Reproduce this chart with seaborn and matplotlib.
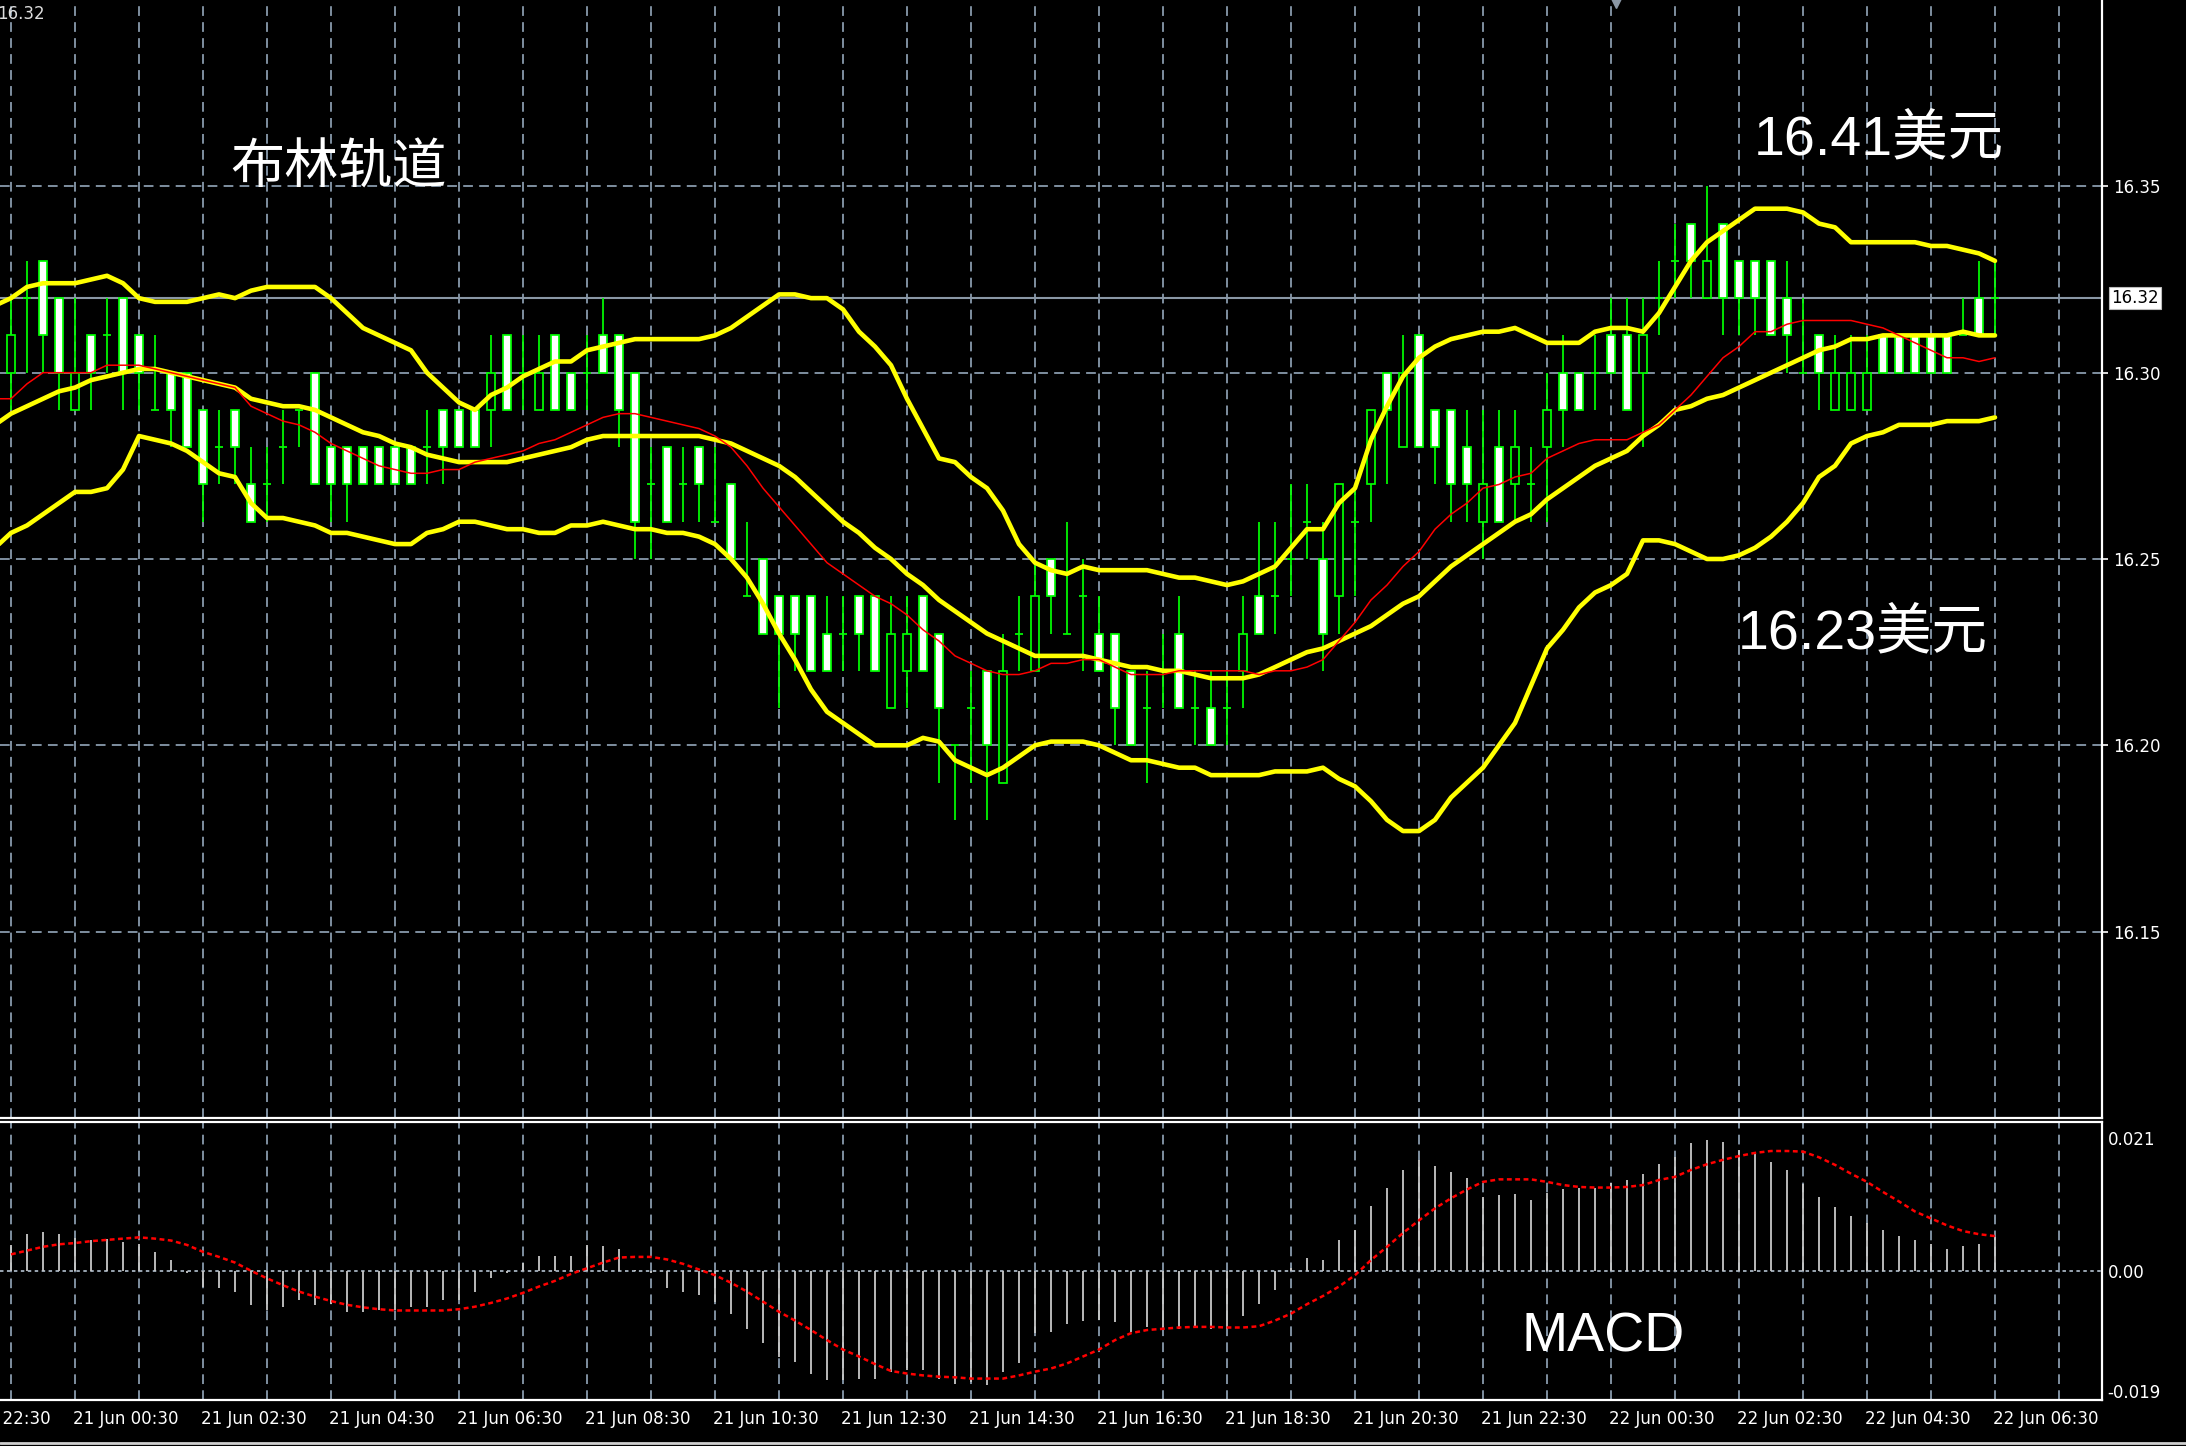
import numpy as np
import seaborn as sns
import matplotlib.pyplot as plt
from matplotlib import font_manager
from matplotlib.lines import Line2D
from matplotlib.transforms import blended_transform_factory

# M15 candles shown on the chart, 20 Jun 23:30 -> 22 Jun 06:30 (125 bars)
opens = [16.30, 16.32, 16.33, 16.32, 16.29, 16.31, 16.31, 16.32, 16.31, 16.29,
         16.30, 16.30, 16.29, 16.28, 16.29, 16.27, 16.27, 16.28, 16.29, 16.30,
         16.28, 16.28, 16.28, 16.28, 16.28, 16.28, 16.28, 16.29, 16.29, 16.29,
         16.29, 16.31, 16.30, 16.29, 16.31, 16.30, 16.30, 16.31, 16.31, 16.30,
         16.27, 16.28, 16.27, 16.28, 16.26, 16.27, 16.24, 16.25, 16.24, 16.24,
         16.24, 16.23, 16.23, 16.24, 16.24, 16.21, 16.22, 16.24, 16.23, 16.20,
         16.21, 16.22, 16.19, 16.23, 16.22, 16.25, 16.23, 16.24, 16.23, 16.23,
         16.22, 16.21, 16.22, 16.23, 16.21, 16.21, 16.21, 16.22, 16.24, 16.24,
         16.25, 16.26, 16.25, 16.24, 16.26, 16.27, 16.30, 16.28, 16.31, 16.29,
         16.29, 16.28, 16.26, 16.28, 16.27, 16.27, 16.28, 16.30, 16.30, 16.30,
         16.31, 16.31, 16.30, 16.32, 16.33, 16.34, 16.32, 16.34, 16.33, 16.33,
         16.33, 16.32, 16.30, 16.31, 16.29, 16.29, 16.29, 16.31, 16.31, 16.31,
         16.31, 16.31, 16.31, 16.32, 16.32]
highs = [16.32, 16.33, 16.33, 16.32, 16.32, 16.31, 16.32, 16.32, 16.31, 16.31,
         16.30, 16.30, 16.29, 16.29, 16.29, 16.28, 16.28, 16.29, 16.29, 16.30,
         16.28, 16.28, 16.28, 16.28, 16.28, 16.28, 16.29, 16.29, 16.29, 16.29,
         16.31, 16.31, 16.31, 16.31, 16.31, 16.30, 16.31, 16.32, 16.31, 16.30,
         16.28, 16.28, 16.28, 16.28, 16.28, 16.27, 16.26, 16.25, 16.24, 16.24,
         16.24, 16.24, 16.24, 16.24, 16.24, 16.24, 16.24, 16.24, 16.23, 16.20,
         16.22, 16.22, 16.23, 16.24, 16.25, 16.25, 16.26, 16.25, 16.24, 16.23,
         16.22, 16.22, 16.23, 16.24, 16.22, 16.22, 16.22, 16.24, 16.26, 16.26,
         16.27, 16.27, 16.26, 16.27, 16.27, 16.29, 16.30, 16.31, 16.31, 16.29,
         16.29, 16.29, 16.29, 16.29, 16.29, 16.28, 16.30, 16.31, 16.30, 16.31,
         16.32, 16.32, 16.32, 16.33, 16.34, 16.34, 16.35, 16.34, 16.33, 16.33,
         16.33, 16.33, 16.32, 16.31, 16.31, 16.31, 16.31, 16.31, 16.31, 16.31,
         16.31, 16.31, 16.32, 16.33, 16.33]
lows = [16.29, 16.30, 16.30, 16.29, 16.29, 16.29, 16.30, 16.29, 16.29, 16.29,
        16.28, 16.28, 16.26, 16.27, 16.27, 16.26, 16.26, 16.27, 16.28, 16.27,
        16.26, 16.26, 16.27, 16.27, 16.27, 16.27, 16.27, 16.27, 16.28, 16.28,
        16.28, 16.29, 16.29, 16.29, 16.29, 16.29, 16.29, 16.30, 16.28, 16.25,
        16.25, 16.26, 16.26, 16.26, 16.26, 16.25, 16.24, 16.23, 16.21, 16.22,
        16.22, 16.22, 16.22, 16.22, 16.22, 16.21, 16.21, 16.22, 16.19, 16.18,
        16.19, 16.18, 16.19, 16.22, 16.22, 16.23, 16.23, 16.22, 16.22, 16.20,
        16.20, 16.19, 16.21, 16.21, 16.20, 16.20, 16.20, 16.21, 16.23, 16.23,
        16.24, 16.25, 16.22, 16.23, 16.24, 16.26, 16.27, 16.28, 16.28, 16.27,
        16.26, 16.26, 16.25, 16.26, 16.26, 16.26, 16.26, 16.28, 16.29, 16.29,
        16.30, 16.29, 16.28, 16.31, 16.32, 16.32, 16.32, 16.31, 16.31, 16.31,
        16.31, 16.30, 16.30, 16.29, 16.29, 16.29, 16.29, 16.30, 16.30, 16.30,
        16.30, 16.30, 16.31, 16.31, 16.31]
closes = [16.31, 16.32, 16.31, 16.30, 16.30, 16.30, 16.31, 16.30, 16.30, 16.29,
          16.29, 16.28, 16.27, 16.28, 16.28, 16.26, 16.27, 16.28, 16.29, 16.27,
          16.27, 16.27, 16.27, 16.27, 16.27, 16.27, 16.28, 16.28, 16.28, 16.28,
          16.30, 16.29, 16.30, 16.30, 16.29, 16.29, 16.30, 16.30, 16.29, 16.26,
          16.27, 16.26, 16.27, 16.27, 16.26, 16.25, 16.24, 16.23, 16.23, 16.23,
          16.22, 16.22, 16.23, 16.23, 16.22, 16.23, 16.23, 16.22, 16.21, 16.20,
          16.21, 16.20, 16.22, 16.23, 16.24, 16.24, 16.23, 16.24, 16.22, 16.21,
          16.20, 16.21, 16.22, 16.21, 16.21, 16.20, 16.21, 16.23, 16.23, 16.24,
          16.25, 16.26, 16.23, 16.27, 16.26, 16.29, 16.29, 16.30, 16.28, 16.28,
          16.27, 16.27, 16.27, 16.26, 16.28, 16.27, 16.29, 16.29, 16.29, 16.30,
          16.30, 16.29, 16.31, 16.32, 16.33, 16.33, 16.33, 16.32, 16.32, 16.32,
          16.31, 16.31, 16.30, 16.30, 16.30, 16.30, 16.30, 16.30, 16.30, 16.30,
          16.30, 16.30, 16.31, 16.31, 16.32]

# Bollinger bands and the thin red average, one value per bar,
# starting one bar before the first candle so they reach the left edge
bb_upper = [16.318, 16.320, 16.323, 16.324, 16.324, 16.324, 16.325, 16.326, 16.324, 16.320,
            16.319, 16.319, 16.319, 16.320, 16.321, 16.320, 16.322, 16.323, 16.323, 16.323,
            16.323, 16.320, 16.316, 16.312, 16.310, 16.308, 16.306, 16.300, 16.296, 16.292,
            16.290, 16.294, 16.296, 16.299, 16.301, 16.303, 16.303, 16.306, 16.307, 16.308,
            16.309, 16.309, 16.309, 16.309, 16.309, 16.310, 16.312, 16.315, 16.318, 16.321,
            16.321, 16.320, 16.320, 16.317, 16.311, 16.307, 16.302, 16.293, 16.285, 16.277,
            16.276, 16.272, 16.269, 16.263, 16.254, 16.249, 16.247, 16.246, 16.248, 16.247,
            16.247, 16.247, 16.247, 16.246, 16.245, 16.245, 16.244, 16.243, 16.244, 16.246,
            16.248, 16.253, 16.258, 16.258, 16.265, 16.269, 16.282, 16.291, 16.299, 16.304,
            16.307, 16.309, 16.310, 16.311, 16.311, 16.312, 16.310, 16.308, 16.308, 16.308,
            16.311, 16.312, 16.312, 16.311, 16.316, 16.323, 16.330, 16.335, 16.338, 16.341,
            16.344, 16.344, 16.344, 16.343, 16.340, 16.339, 16.335, 16.335, 16.335, 16.335,
            16.335, 16.334, 16.334, 16.333, 16.332, 16.330]
bb_middle = [16.286, 16.289, 16.291, 16.293, 16.295, 16.296, 16.298, 16.299, 16.300, 16.301,
             16.301, 16.300, 16.299, 16.298, 16.297, 16.296, 16.293, 16.292, 16.291, 16.291,
             16.290, 16.288, 16.286, 16.284, 16.283, 16.281, 16.280, 16.278, 16.277, 16.276,
             16.276, 16.276, 16.276, 16.277, 16.278, 16.279, 16.280, 16.282, 16.283, 16.283,
             16.283, 16.283, 16.283, 16.283, 16.283, 16.282, 16.281, 16.279, 16.277, 16.275,
             16.272, 16.268, 16.264, 16.260, 16.257, 16.253, 16.250, 16.246, 16.243, 16.239,
             16.236, 16.233, 16.230, 16.228, 16.226, 16.224, 16.224, 16.224, 16.224, 16.223,
             16.222, 16.221, 16.221, 16.220, 16.220, 16.219, 16.218, 16.218, 16.218, 16.219,
             16.221, 16.223, 16.225, 16.226, 16.228, 16.230, 16.232, 16.235, 16.238, 16.240,
             16.244, 16.248, 16.251, 16.254, 16.257, 16.260, 16.262, 16.266, 16.269, 16.272,
             16.275, 16.277, 16.279, 16.283, 16.286, 16.290, 16.291, 16.293, 16.294, 16.296,
             16.298, 16.300, 16.302, 16.304, 16.306, 16.307, 16.309, 16.309, 16.310, 16.310,
             16.310, 16.310, 16.310, 16.311, 16.310, 16.310]
bb_lower = [16.253, 16.257, 16.259, 16.262, 16.265, 16.268, 16.268, 16.269, 16.274, 16.283,
            16.282, 16.281, 16.279, 16.276, 16.273, 16.272, 16.265, 16.261, 16.261, 16.260,
            16.259, 16.257, 16.257, 16.256, 16.255, 16.254, 16.254, 16.257, 16.258, 16.260,
            16.260, 16.259, 16.258, 16.258, 16.257, 16.257, 16.259, 16.259, 16.260, 16.259,
            16.258, 16.258, 16.257, 16.257, 16.256, 16.254, 16.250, 16.245, 16.238, 16.230,
            16.223, 16.215, 16.209, 16.206, 16.203, 16.200, 16.200, 16.200, 16.202, 16.201,
            16.196, 16.194, 16.192, 16.194, 16.197, 16.200, 16.201, 16.201, 16.201, 16.200,
            16.198, 16.196, 16.196, 16.195, 16.194, 16.194, 16.192, 16.192, 16.192, 16.192,
            16.193, 16.193, 16.193, 16.194, 16.191, 16.189, 16.185, 16.180, 16.177, 16.177,
            16.180, 16.186, 16.190, 16.194, 16.200, 16.206, 16.216, 16.226, 16.231, 16.237,
            16.241, 16.243, 16.246, 16.255, 16.255, 16.254, 16.252, 16.250, 16.250, 16.251,
            16.253, 16.256, 16.260, 16.265, 16.272, 16.275, 16.281, 16.283, 16.284, 16.286,
            16.286, 16.286, 16.287, 16.287, 16.287, 16.288]
ma_red = [16.293, 16.293, 16.297, 16.300, 16.300, 16.300, 16.300, 16.302, 16.302, 16.302,
          16.301, 16.300, 16.299, 16.298, 16.297, 16.296, 16.291, 16.289, 16.287, 16.286,
          16.284, 16.281, 16.279, 16.277, 16.275, 16.274, 16.273, 16.273, 16.274, 16.274,
          16.276, 16.277, 16.278, 16.279, 16.281, 16.282, 16.284, 16.286, 16.288, 16.289,
          16.289, 16.288, 16.287, 16.286, 16.285, 16.283, 16.280, 16.275, 16.269, 16.264,
          16.259, 16.254, 16.249, 16.246, 16.243, 16.240, 16.238, 16.235, 16.231, 16.228,
          16.224, 16.222, 16.220, 16.219, 16.219, 16.220, 16.222, 16.222, 16.223, 16.223,
          16.221, 16.219, 16.219, 16.219, 16.220, 16.220, 16.220, 16.220, 16.220, 16.219,
          16.220, 16.220, 16.221, 16.223, 16.228, 16.233, 16.239, 16.243, 16.248, 16.252,
          16.258, 16.262, 16.265, 16.269, 16.270, 16.272, 16.273, 16.277, 16.279, 16.281,
          16.282, 16.282, 16.282, 16.284, 16.286, 16.290, 16.294, 16.299, 16.304, 16.307,
          16.311, 16.311, 16.313, 16.314, 16.314, 16.314, 16.314, 16.313, 16.312, 16.310,
          16.308, 16.306, 16.304, 16.304, 16.303, 16.304]

# MACD window: histogram (main) and dotted signal line
macd_hist = [0.0041, 0.0059, 0.0061, 0.0058, 0.0052, 0.0049, 0.0051, 0.0046, 0.0042, 0.0030,
             0.0017, -0.0003, -0.0025, -0.0028, -0.0033, -0.0054, -0.0062, -0.0057, -0.0047, -0.0054,
             -0.0052, -0.0065, -0.0065, -0.0062, -0.0062, -0.0057, -0.0057, -0.0047, -0.0047, -0.0033,
             -0.0012, -0.0003, 0.0012, 0.0023, 0.0023, 0.0023, 0.0041, 0.0039, 0.0035, 0.0001,
             -0.0004, -0.0028, -0.0033, -0.0039, -0.0049, -0.0068, -0.0092, -0.0115, -0.0136, -0.0144,
             -0.0163, -0.0174, -0.0174, -0.0171, -0.0172, -0.0160, -0.0158, -0.0157, -0.0171, -0.0179,
             -0.0176, -0.0181, -0.0160, -0.0147, -0.0099, -0.0097, -0.0084, -0.0080, -0.0078, -0.0081,
             -0.0097, -0.0089, -0.0089, -0.0092, -0.0089, -0.0093, -0.0092, -0.0072, -0.0052, -0.0031,
             0.0004, 0.0020, 0.0017, 0.0049, 0.0065, 0.0103, 0.0131, 0.0160, 0.0175, 0.0166,
             0.0157, 0.0147, 0.0117, 0.0120, 0.0122, 0.0112, 0.0124, 0.0129, 0.0132, 0.0132,
             0.0139, 0.0144, 0.0153, 0.0169, 0.0181, 0.0202, 0.0207, 0.0205, 0.0191, 0.0186,
             0.0173, 0.0160, 0.0138, 0.0117, 0.0101, 0.0087, 0.0076, 0.0065, 0.0055, 0.0049,
             0.0042, 0.0035, 0.0039, 0.0042, 0.0054]
macd_signal = [0.0026, 0.0032, 0.0038, 0.0042, 0.0044, 0.0047, 0.0049, 0.0051, 0.0053, 0.0051,
               0.0048, 0.0041, 0.0030, 0.0022, 0.0013, 0.0000, -0.0012, -0.0023, -0.0033, -0.0041,
               -0.0048, -0.0054, -0.0058, -0.0061, -0.0063, -0.0063, -0.0063, -0.0063, -0.0061, -0.0057,
               -0.0051, -0.0044, -0.0035, -0.0025, -0.0016, -0.0005, 0.0004, 0.0013, 0.0021, 0.0022,
               0.0022, 0.0018, 0.0011, 0.0002, -0.0007, -0.0019, -0.0033, -0.0049, -0.0065, -0.0079,
               -0.0094, -0.0110, -0.0125, -0.0136, -0.0148, -0.0159, -0.0163, -0.0166, -0.0168, -0.0169,
               -0.0171, -0.0171, -0.0171, -0.0166, -0.0160, -0.0155, -0.0147, -0.0136, -0.0125, -0.0110,
               -0.0099, -0.0094, -0.0092, -0.0090, -0.0089, -0.0089, -0.0090, -0.0090, -0.0088, -0.0079,
               -0.0068, -0.0053, -0.0040, -0.0025, -0.0007, 0.0017, 0.0038, 0.0060, 0.0080, 0.0099,
               0.0115, 0.0129, 0.0141, 0.0145, 0.0145, 0.0145, 0.0141, 0.0136, 0.0133, 0.0132,
               0.0132, 0.0133, 0.0136, 0.0144, 0.0149, 0.0160, 0.0169, 0.0176, 0.0182, 0.0187,
               0.0190, 0.0190, 0.0189, 0.0180, 0.0168, 0.0154, 0.0141, 0.0125, 0.0110, 0.0094,
               0.0083, 0.0072, 0.0063, 0.0058, 0.0055]

time_labels = ['20 Jun 22:30', '21 Jun 00:30', '21 Jun 02:30', '21 Jun 04:30', '21 Jun 06:30',
               '21 Jun 08:30', '21 Jun 10:30', '21 Jun 12:30', '21 Jun 14:30', '21 Jun 16:30',
               '21 Jun 18:30', '21 Jun 20:30', '21 Jun 22:30', '22 Jun 00:30', '22 Jun 02:30',
               '22 Jun 04:30', '22 Jun 06:30']
price_ticks = [16.15, 16.20, 16.25, 16.30, 16.35]
last_price = 16.32
macd_ticks = [0.021, 0.0, -0.019]
macd_tick_labels = ['0.021', '0.00', '-0.019']

W, H = 2186, 1446
GRID = '#7f8fa0'
LIME = '#00ff00'
DASH = (0, (7, 4.5))

sns.set_theme(style='dark', rc={'figure.facecolor': 'black', 'axes.facecolor': 'black',
                                'savefig.facecolor': 'black', 'lines.scale_dashes': False})
names = {f.name for f in font_manager.fontManager.ttflist}
if 'Liberation Sans Narrow' in names:
    small_font, small_size = 'Liberation Sans Narrow', 17.5
else:
    small_font, small_size = 'DejaVu Sans', 12
plt.rcParams['font.family'] = ['Liberation Sans', 'Noto Sans CJK SC', 'DejaVu Sans']
big_font = ['Liberation Sans', 'Noto Sans CJK SC']

fig = plt.figure(figsize=(W / 100, H / 100), dpi=100)
ax = fig.add_axes([0, 1 - 1118 / H, 2102 / W, 1118 / H])
ax2 = fig.add_axes([0, 1 - 1400 / H, 2102 / W, 278 / H], sharex=ax)

bars = np.arange(len(opens))
line_x = np.arange(-1, len(bb_upper) - 1)
o, h, l, c = map(np.array, (opens, highs, lows, closes))

# ---- price window ----
ax.axhline(last_price, color='#8a97a5', lw=1.5, zorder=1)
ax.vlines(bars, l, h, color=LIME, lw=1.25, zorder=2)
body_fill = np.where(c < o, 'white', 'black')
ax.bar(bars, c - o, bottom=o, width=0.48, color=body_fill, edgecolor=LIME,
       linewidth=1.25, zorder=3)

for band in (bb_upper, bb_middle, bb_lower):
    sns.lineplot(x=line_x, y=band, ax=ax, color='#ffff00', lw=3.3, errorbar=None,
                 legend=False, zorder=4)
sns.lineplot(x=line_x, y=ma_red, ax=ax, color='#ff0000', lw=1.1, errorbar=None,
             legend=False, zorder=5)

ax.set_xlim(-11 / 16, 2091 / 16)
ax.set_ylim(16.10, 16.40)
ax.set_yticks(price_ticks)
ax.yaxis.set_major_formatter('{x:.2f}')
ax.yaxis.tick_right()
# hourly grid: label ticks every 2 h (major) plus the hours in between (minor)
ax.set_xticks(np.arange(4, 125, 8))
ax.set_xticks(np.arange(0, 129, 8), minor=True)
ax.grid(which='both', axis='x', color=GRID, lw=1.4, ls=DASH)
ax.grid(which='major', axis='y', color=GRID, lw=1.4, ls=DASH)
ax.tick_params(axis='x', which='both', length=0, labelbottom=False)
ax.tick_params(axis='y', which='major', length=4.5, width=1.2, color='white',
               labelcolor='white', labelsize=small_size, pad=3.5, direction='out')
for lab in ax.get_yticklabels():
    lab.set_family(small_font)
for side in ('left', 'top'):
    ax.spines[side].set_visible(False)
for side in ('right', 'bottom'):
    ax.spines[side].set_color('white')
    ax.spines[side].set_linewidth(1.6)
ax.set_xlabel('')
ax.set_ylabel('')

# current price tag on the right scale
tag_tr = blended_transform_factory(ax.transAxes, ax.transData)
ax.text(1.0045, last_price, f'{last_price:.2f}', transform=tag_tr, ha='left', va='center',
        color='black', fontsize=small_size, family=small_font, clip_on=False,
        bbox=dict(boxstyle='square,pad=0.12', fc='white', ec='#bbbbbb', lw=0.8))

# ---- MACD window ----
ax2.vlines(bars, 0, macd_hist, color='#c8c8c8', lw=1.3, zorder=2)
sns.lineplot(x=bars, y=macd_signal, ax=ax2, color='#ff0000', lw=1.8, errorbar=None,
             legend=False, linestyle=(0, (3.5, 2.5)), zorder=3)
ax2.axhline(0, color='#9aa6b2', lw=1.4, ls=(0, (2.5, 2.5)), zorder=1)
ax2.set_ylim(-0.0205, 0.0236)
ax2.set_yticks(macd_ticks)
ax2.set_yticklabels(macd_tick_labels)
ax2.yaxis.tick_right()
ax2.tick_params(axis='y', length=0, labelcolor='white', labelsize=small_size, pad=4)
for lab in ax2.get_yticklabels():
    lab.set_family(small_font)
ax2.grid(which='both', axis='x', color=GRID, lw=1.4, ls=DASH)
ax2.grid(which='both', axis='y', visible=False)
ax2.tick_params(axis='x', which='major', length=4.5, width=1.4, color='white',
                labelbottom=False, direction='out')
ax2.tick_params(axis='x', which='minor', length=0)
ax2.spines['left'].set_visible(False)
for side in ('right', 'bottom', 'top'):
    ax2.spines[side].set_color('white')
    ax2.spines[side].set_linewidth(1.6)
ax2.set_xlabel('')
ax2.set_ylabel('')

# time scale, labels start at their tick (the first one runs off the left edge)
time_tr = blended_transform_factory(ax2.transData, fig.transFigure)
for pos, lab in zip(np.arange(-4, 125, 8), time_labels):
    ax2.text(pos - 0.1, 1 - 1419 / H, lab, transform=time_tr, ha='left', va='center',
             color='white', fontsize=small_size, family=small_font, clip_on=False)

# annotations
fig.text(230 / W, 1 - 169 / H, '布林轨道', color='white', fontsize=39,
         family=big_font, ha='left', va='center')
fig.text(1754 / W, 1 - 140 / H, '16.41美元', color='white', fontsize=40,
         family=big_font, ha='left', va='center')
fig.text(1738 / W, 1 - 634 / H, '16.23美元', color='white', fontsize=40,
         family=big_font, ha='left', va='center')
fig.text(1522 / W, 1 - 1338 / H, 'MACD', color='white', fontsize=40,
         family=big_font, ha='left', va='center')
fig.text(-3 / W, 1 - 14 / H, '16.32', color='#dddddd', fontsize=small_size,
         family=small_font, ha='left', va='center')
fig.add_artist(Line2D([1616 / W], [1 - 3 / H], marker='v', markersize=7,
                      color='#8a97a5', transform=fig.transFigure))
fig.add_artist(Line2D([0, 1], [1 - 1443 / H, 1 - 1443 / H], color='#cfcfcf', lw=2,
                      transform=fig.transFigure))

fig.savefig('out.png', dpi=100, facecolor='black')
